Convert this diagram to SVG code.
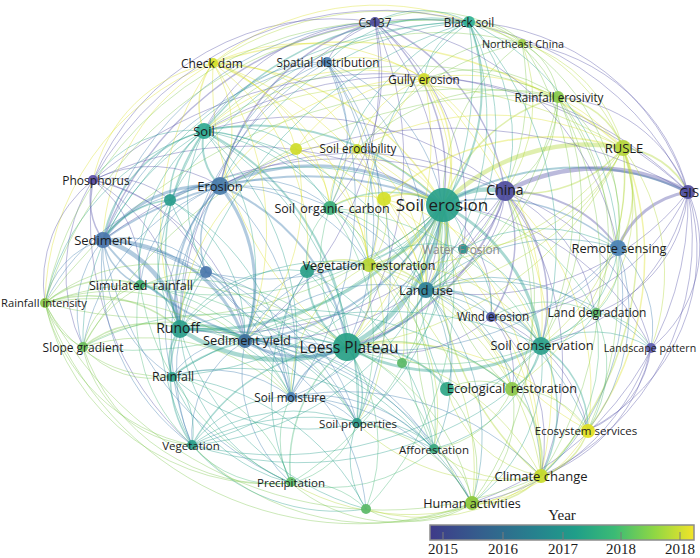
<svg xmlns="http://www.w3.org/2000/svg" width="700" height="558" viewBox="0 0 700 558">
<defs>
<linearGradient id="vir" x1="0" y1="0" x2="1" y2="0">
<stop offset="0" stop-color="#3e3a89"/><stop offset="0.2" stop-color="#34608d"/><stop offset="0.4" stop-color="#26828e"/><stop offset="0.55" stop-color="#1f9e89"/><stop offset="0.7" stop-color="#3bbb75"/><stop offset="0.85" stop-color="#8fd744"/><stop offset="1" stop-color="#f2e428"/>
</linearGradient>
<style>
#edges path{fill:none;stroke-opacity:.4;stroke-width:1;stroke-linecap:round}
.p{stroke:#5552a8}.b{stroke:#3f7cb0}.tb{stroke:#2f8aa0}.t{stroke:#2aa08e}.g{stroke:#4cb87a}.lg{stroke:#80c850}.l{stroke:#b2d638}.y{stroke:#dce22a}
#edges .w15{stroke-width:1.5}#edges .w2{stroke-width:2}#edges .w3{stroke-width:3}#edges .w4{stroke-width:4.5}
circle{fill-opacity:.92}
.lb{font-family:"Open Sans","DejaVu Sans",sans-serif;fill:#1c1c1c;text-anchor:middle;dominant-baseline:central;font-size:11.7px}
.yr{font-family:"Liberation Serif","Times New Roman",serif;fill:#1c1c1c;text-anchor:middle;font-size:15px}
</style>
</defs>
<rect width="700" height="558" fill="#ffffff"/>
<g id="edges">
<path class="t w4" d="M443 205A70 70 0 0 1 505 192"/>
<path class="l w4" d="M443 205A200 200 0 0 1 623 148"/>
<path class="tb w2" d="M443 205A260 260 0 0 1 688 192"/>
<path class="l w15" d="M443 205A170 170 0 0 1 558 97"/>
<path class="lg" d="M443 205A190 190 0 0 1 522 43"/>
<path class="t w2" d="M443 205A190 190 0 0 0 469 22"/>
<path class="p w15" d="M443 205A200 200 0 0 0 375 22"/>
<path class="y w15" d="M443 205A130 130 0 0 0 424 79"/>
<path class="b" d="M443 205A190 190 0 0 0 327 62"/>
<path class="y w15" d="M443 205A280 280 0 0 0 213 63"/>
<path class="t w2" d="M443 205A260 260 0 0 0 204 131"/>
<path class="y" d="M443 205A110 110 0 0 0 357 149"/>
<path class="y" d="M443 205A160 160 0 0 0 296 149"/>
<path class="p" d="M443 205A360 360 0 0 0 93 180"/>
<path class="b w3" d="M443 205A230 230 0 0 0 220 186"/>
<path class="t" d="M443 205A280 280 0 0 0 170 200"/>
<path class="b w2" d="M443 205A350 350 0 0 0 103 240"/>
<path class="g w15" d="M443 205A120 120 0 0 0 330 208"/>
<path class="y w2" d="M443 205A60 60 0 0 0 384 199"/>
<path class="t" d="M443 205A50 50 0 0 1 463 249"/>
<path class="b w15" d="M443 205A190 190 0 0 1 618 248"/>
<path class="g" d="M443 205A320 320 0 0 1 140 285"/>
<path class="b" d="M443 205A250 250 0 0 1 206 272"/>
<path class="l w2" d="M443 205A100 100 0 0 1 369 265"/>
<path class="t" d="M443 205A160 160 0 0 1 307 271"/>
<path class="tb w3" d="M443 205A90 90 0 0 1 426 290"/>
<path class="lg" d="M443 205A420 420 0 0 1 45 303"/>
<path class="p" d="M443 205A130 130 0 0 1 491 317"/>
<path class="g" d="M443 205A190 190 0 0 1 595 313"/>
<path class="t w3" d="M443 205A300 300 0 0 1 180 329"/>
<path class="g" d="M443 205A400 400 0 0 1 83 347"/>
<path class="b w2" d="M443 205A250 250 0 0 1 245 341"/>
<path class="t w4" d="M443 205A180 180 0 0 1 347 347"/>
<path class="g" d="M443 205A170 170 0 0 1 402 363"/>
<path class="t w3" d="M443 205A180 180 0 0 1 541 345"/>
<path class="p" d="M443 205A260 260 0 0 1 651 348"/>
<path class="lg" d="M443 205A200 200 0 0 0 512 389"/>
<path class="t" d="M443 205A190 190 0 0 0 447 389"/>
<path class="t" d="M443 205A330 330 0 0 1 172 376"/>
<path class="b" d="M443 205A250 250 0 0 1 291 397"/>
<path class="t" d="M443 205A240 240 0 0 1 357 423"/>
<path class="y" d="M443 205A270 270 0 0 0 588 430"/>
<path class="t" d="M443 205A350 350 0 0 1 192 445"/>
<path class="g" d="M443 205A250 250 0 0 0 434 449"/>
<path class="l w15" d="M443 205A290 290 0 0 0 541 476"/>
<path class="g" d="M443 205A320 320 0 0 1 291 483"/>
<path class="lg" d="M443 205A300 300 0 0 0 472 503"/>
<path class="g" d="M443 205A320 320 0 0 1 366 509"/>
<path class="t w2" d="M347 347A260 260 0 0 0 204 131"/>
<path class="b w2" d="M347 347A210 210 0 0 0 220 186"/>
<path class="b w2" d="M347 347A280 280 0 0 1 103 240"/>
<path class="t w4" d="M347 347A180 180 0 0 1 180 329"/>
<path class="b w3" d="M347 347A110 110 0 0 1 245 341"/>
<path class="t w15" d="M347 347A190 190 0 0 0 172 376"/>
<path class="b w15" d="M347 347A80 80 0 0 0 291 397"/>
<path class="t w15" d="M347 347A80 80 0 0 1 357 423"/>
<path class="t w15" d="M347 347A190 190 0 0 0 192 445"/>
<path class="g w15" d="M347 347A150 150 0 0 0 291 483"/>
<path class="g" d="M347 347A140 140 0 0 1 434 449"/>
<path class="lg" d="M347 347A210 210 0 0 1 472 503"/>
<path class="g" d="M347 347A170 170 0 0 1 366 509"/>
<path class="l" d="M347 347A240 240 0 0 1 541 476"/>
<path class="y" d="M347 347A260 260 0 0 1 588 430"/>
<path class="t w3" d="M347 347A200 200 0 0 0 541 345"/>
<path class="lg w15" d="M347 347A180 180 0 0 1 512 389"/>
<path class="t w2" d="M347 347A110 110 0 0 1 447 389"/>
<path class="tb w2" d="M347 347A100 100 0 0 0 426 290"/>
<path class="l w15" d="M347 347A90 90 0 0 0 369 265"/>
<path class="t w2" d="M347 347A90 90 0 0 1 307 271"/>
<path class="g" d="M347 347A150 150 0 0 1 330 208"/>
<path class="p w2" d="M347 347A230 230 0 0 0 505 192"/>
<path class="t" d="M347 347A160 160 0 0 0 463 249"/>
<path class="g" d="M347 347A220 220 0 0 0 140 285"/>
<path class="b" d="M347 347A170 170 0 0 1 206 272"/>
<path class="t" d="M347 347A240 240 0 0 1 170 200"/>
<path class="g" d="M347 347A280 280 0 0 0 83 347"/>
<path class="lg" d="M347 347A320 320 0 0 0 45 303"/>
<path class="y" d="M347 347A330 330 0 0 1 213 63"/>
<path class="b" d="M347 347A300 300 0 0 0 327 62"/>
<path class="p" d="M347 347A340 340 0 0 0 375 22"/>
<path class="t" d="M347 347A360 360 0 0 0 469 22"/>
<path class="g" d="M347 347A60 60 0 0 1 402 363"/>
<path class="g" d="M347 347A260 260 0 0 0 595 313"/>
<path class="b" d="M347 347A300 300 0 0 0 618 248"/>
<path class="p" d="M347 347A150 150 0 0 0 491 317"/>
<path class="y" d="M347 347A290 290 0 0 0 424 79"/>
<path class="lg" d="M347 347A330 330 0 0 0 558 97"/>
<path class="l" d="M347 347A350 350 0 0 0 623 148"/>
<path class="p w4" d="M505 192A190 190 0 0 1 688 192"/>
<path class="p w2" d="M505 192A130 130 0 0 1 618 248"/>
<path class="l w15" d="M505 192A130 130 0 0 0 623 148"/>
<path class="lg" d="M505 192A110 110 0 0 0 558 97"/>
<path class="l" d="M505 192A160 160 0 0 0 522 43"/>
<path class="t" d="M505 192A180 180 0 0 0 469 22"/>
<path class="p w15" d="M505 192A220 220 0 0 0 375 22"/>
<path class="p" d="M505 192A160 160 0 0 1 595 313"/>
<path class="p w15" d="M505 192A160 160 0 0 1 541 345"/>
<path class="p" d="M505 192A220 220 0 0 1 651 348"/>
<path class="p w15" d="M505 192A130 130 0 0 1 491 317"/>
<path class="y" d="M505 192A270 270 0 0 1 588 430"/>
<path class="p" d="M505 192A290 290 0 0 1 541 476"/>
<path class="p" d="M505 192A110 110 0 0 1 426 290"/>
<path class="p" d="M505 192A300 300 0 0 0 220 186"/>
<path class="p" d="M505 192A320 320 0 0 0 204 131"/>
<path class="p" d="M505 192A400 400 0 0 0 103 240"/>
<path class="p" d="M505 192A280 280 0 0 1 245 341"/>
<path class="p" d="M505 192A340 340 0 0 1 180 329"/>
<path class="lg" d="M505 192A200 200 0 0 1 512 389"/>
<path class="lg" d="M505 192A310 310 0 0 1 472 503"/>
<path class="l w2" d="M688 192A80 80 0 0 0 623 148"/>
<path class="p w3" d="M688 192A90 90 0 0 0 618 248"/>
<path class="p" d="M688 192A130 130 0 0 1 651 348"/>
<path class="p" d="M688 192A150 150 0 0 0 558 97"/>
<path class="p" d="M688 192A200 200 0 0 0 522 43"/>
<path class="p" d="M688 192A140 140 0 0 1 595 313"/>
<path class="p" d="M688 192A200 200 0 0 1 541 345"/>
<path class="p" d="M688 192A200 200 0 0 1 588 430"/>
<path class="p" d="M688 192A260 260 0 0 1 541 476"/>
<path class="p" d="M688 192A270 270 0 0 1 426 290"/>
<path class="p" d="M688 192A220 220 0 0 1 491 317"/>
<path class="p" d="M688 192A480 480 0 0 0 220 186"/>
<path class="p" d="M688 192A320 320 0 0 1 472 503"/>
<path class="p" d="M469 22A240 240 0 0 1 688 192"/>
<path class="p" d="M375 22A300 300 0 0 1 688 192"/>
<path class="p" d="M204 131A400 400 0 0 1 688 192"/>
<path class="p" d="M93 180A450 450 0 0 1 688 192"/>
<path class="l w15" d="M623 148A80 80 0 0 0 558 97"/>
<path class="l" d="M623 148A150 150 0 0 0 522 43"/>
<path class="l w15" d="M623 148A110 110 0 0 1 618 248"/>
<path class="l w15" d="M623 148A330 330 0 0 1 541 476"/>
<path class="y w15" d="M623 148A290 290 0 0 1 588 430"/>
<path class="l" d="M623 148A210 210 0 0 1 541 345"/>
<path class="l" d="M623 148A170 170 0 0 1 595 313"/>
<path class="l" d="M623 148A210 210 0 0 0 469 22"/>
<path class="y" d="M623 148A210 210 0 0 0 424 79"/>
<path class="y w15" d="M213 63A420 420 0 0 1 623 148"/>
<path class="y" d="M623 148A280 280 0 0 0 357 149"/>
<path class="y w15" d="M623 148A250 250 0 0 0 384 199"/>
<path class="l" d="M623 148A260 260 0 0 1 426 290"/>
<path class="l" d="M623 148A180 180 0 0 1 463 249"/>
<path class="l" d="M623 148A210 210 0 0 1 651 348"/>
<path class="l" d="M623 148A260 260 0 0 1 512 389"/>
<path class="l" d="M623 148A280 280 0 0 1 369 265"/>
<path class="l" d="M623 148A430 430 0 0 0 204 131"/>
<path class="lg" d="M558 97A70 70 0 0 0 522 43"/>
<path class="lg" d="M558 97A120 120 0 0 0 469 22"/>
<path class="lg" d="M558 97A160 160 0 0 1 618 248"/>
<path class="lg" d="M558 97A260 260 0 0 1 541 345"/>
<path class="lg" d="M558 97A380 380 0 0 1 541 476"/>
<path class="lg" d="M558 97A220 220 0 0 1 595 313"/>
<path class="lg" d="M558 97A210 210 0 0 0 357 149"/>
<path class="lg" d="M558 97A520 520 0 0 0 45 303"/>
<path class="lg" d="M558 97A500 500 0 0 0 83 347"/>
<path class="lg" d="M558 97A140 140 0 0 0 424 79"/>
<path class="lg" d="M558 97A340 340 0 0 1 588 430"/>
<path class="lg" d="M558 97A360 360 0 0 0 204 131"/>
<path class="lg" d="M558 97A220 220 0 0 1 426 290"/>
<path class="lg" d="M522 43A60 60 0 0 0 469 22"/>
<path class="lg" d="M522 43A110 110 0 0 0 424 79"/>
<path class="l" d="M522 43A310 310 0 0 0 213 63"/>
<path class="lg" d="M522 43A150 150 0 0 0 375 22"/>
<path class="lg" d="M522 43A330 330 0 0 0 204 131"/>
<path class="lg" d="M522 43A250 250 0 0 1 426 290"/>
<path class="lg" d="M522 43A300 300 0 0 1 541 345"/>
<path class="lg" d="M522 43A220 220 0 0 1 618 248"/>
<path class="lg" d="M522 43A260 260 0 0 0 330 208"/>
<path class="t" d="M469 22A100 100 0 0 0 375 22"/>
<path class="t" d="M469 22A70 70 0 0 0 424 79"/>
<path class="t" d="M469 22A150 150 0 0 0 327 62"/>
<path class="t" d="M469 22A230 230 0 0 0 330 208"/>
<path class="t w15" d="M469 22A290 290 0 0 0 204 131"/>
<path class="t" d="M469 22A300 300 0 0 0 220 186"/>
<path class="t" d="M469 22A270 270 0 0 1 426 290"/>
<path class="t" d="M469 22A230 230 0 0 1 463 249"/>
<path class="t" d="M469 22A330 330 0 0 1 541 345"/>
<path class="t" d="M469 22A420 420 0 0 0 103 240"/>
<path class="t" d="M469 22A260 260 0 0 0 369 265"/>
<path class="t" d="M469 22A260 260 0 0 1 618 248"/>
<path class="t" d="M469 22A420 420 0 0 0 180 329"/>
<path class="t" d="M469 22A340 340 0 0 0 170 200"/>
<path class="p" d="M375 22A70 70 0 0 0 327 62"/>
<path class="p w15" d="M375 22A220 220 0 0 0 220 186"/>
<path class="p w15" d="M375 22A340 340 0 0 0 103 240"/>
<path class="p" d="M93 180A260 260 0 0 1 375 22"/>
<path class="p" d="M375 22A200 200 0 0 0 204 131"/>
<path class="p" d="M375 22A330 330 0 0 1 245 341"/>
<path class="p" d="M375 22A240 240 0 0 1 463 249"/>
<path class="p" d="M375 22A350 350 0 0 0 180 329"/>
<path class="p" d="M375 22A280 280 0 0 1 426 290"/>
<path class="p" d="M375 22A200 200 0 0 1 330 208"/>
<path class="p" d="M375 22A280 280 0 0 1 618 248"/>
<path class="y" d="M424 79A220 220 0 0 0 213 63"/>
<path class="y" d="M424 79A110 110 0 0 0 327 62"/>
<path class="y" d="M424 79A100 100 0 0 0 357 149"/>
<path class="y" d="M424 79A160 160 0 0 0 296 149"/>
<path class="y" d="M424 79A220 220 0 0 1 426 290"/>
<path class="y" d="M424 79A200 200 0 0 0 369 265"/>
<path class="y" d="M424 79A230 230 0 0 0 204 131"/>
<path class="y" d="M424 79A240 240 0 0 0 220 186"/>
<path class="y" d="M424 79A300 300 0 0 1 541 345"/>
<path class="y" d="M424 79A420 420 0 0 1 541 476"/>
<path class="b" d="M327 62A140 140 0 0 0 204 131"/>
<path class="b" d="M327 62A160 160 0 0 0 220 186"/>
<path class="b" d="M327 62A150 150 0 0 1 330 208"/>
<path class="b" d="M327 62A300 300 0 0 0 103 240"/>
<path class="b" d="M327 62A340 340 0 0 1 291 397"/>
<path class="b" d="M327 62A370 370 0 0 1 357 423"/>
<path class="b" d="M327 62A210 210 0 0 1 369 265"/>
<path class="b" d="M327 62A300 300 0 0 0 180 329"/>
<path class="b" d="M327 62A250 250 0 0 1 426 290"/>
<path class="y w15" d="M213 63A70 70 0 0 0 204 131"/>
<path class="y" d="M213 63A120 120 0 0 1 296 149"/>
<path class="y" d="M213 63A160 160 0 0 1 357 149"/>
<path class="y" d="M213 63A260 260 0 0 1 369 265"/>
<path class="y" d="M213 63A130 130 0 0 1 220 186"/>
<path class="y" d="M213 63A290 290 0 0 1 245 341"/>
<path class="y" d="M213 63A280 280 0 0 0 180 329"/>
<path class="y" d="M213 63A210 210 0 0 0 103 240"/>
<path class="y" d="M213 63A320 320 0 0 1 426 290"/>
<path class="y" d="M213 63A230 230 0 0 1 307 271"/>
<path class="y" d="M213 63A180 180 0 0 1 330 208"/>
<path class="y" d="M93 180A150 150 0 0 1 213 63"/>
<path class="y" d="M45 303A260 260 0 0 1 213 63"/>
<path class="y" d="M213 63A260 260 0 0 1 469 22"/>
<path class="t w2" d="M204 131A60 60 0 0 0 220 186"/>
<path class="t w15" d="M204 131A80 80 0 0 0 170 200"/>
<path class="t" d="M204 131A120 120 0 0 0 93 180"/>
<path class="t w15" d="M204 131A140 140 0 0 0 103 240"/>
<path class="t w15" d="M204 131A210 210 0 0 0 180 329"/>
<path class="t" d="M204 131A150 150 0 0 1 330 208"/>
<path class="t" d="M204 131A220 220 0 0 1 245 341"/>
<path class="t" d="M204 131A170 170 0 0 0 140 285"/>
<path class="t" d="M204 131A150 150 0 0 0 206 272"/>
<path class="t" d="M204 131A280 280 0 0 1 291 397"/>
<path class="t" d="M204 131A320 320 0 0 1 357 423"/>
<path class="t" d="M204 131A320 320 0 0 0 192 445"/>
<path class="t" d="M204 131A100 100 0 0 1 296 149"/>
<path class="t" d="M204 131A230 230 0 0 0 45 303"/>
<path class="t" d="M204 131A240 240 0 0 0 83 347"/>
<path class="t" d="M204 131A220 220 0 0 1 369 265"/>
<path class="t" d="M204 131A270 270 0 0 1 426 290"/>
<path class="p w15" d="M93 180A70 70 0 0 0 103 240"/>
<path class="p" d="M93 180A130 130 0 0 1 220 186"/>
<path class="p" d="M93 180A90 90 0 0 1 170 200"/>
<path class="p" d="M93 180A170 170 0 0 1 180 329"/>
<path class="p" d="M93 180A200 200 0 0 1 245 341"/>
<path class="p" d="M93 180A120 120 0 0 1 140 285"/>
<path class="p" d="M45 303A130 130 0 0 1 93 180"/>
<path class="p" d="M93 180A170 170 0 0 0 83 347"/>
<path class="p" d="M93 180A150 150 0 0 1 206 272"/>
<path class="p" d="M93 180A300 300 0 0 0 192 445"/>
<path class="p" d="M93 180A330 330 0 0 1 469 22"/>
<path class="b w3" d="M220 186A130 130 0 0 0 103 240"/>
<path class="b w2" d="M220 186A60 60 0 0 0 170 200"/>
<path class="b w2" d="M220 186A150 150 0 0 0 180 329"/>
<path class="b w3" d="M220 186A160 160 0 0 1 245 341"/>
<path class="b" d="M220 186A120 120 0 0 0 140 285"/>
<path class="b w15" d="M220 186A90 90 0 0 0 206 272"/>
<path class="b" d="M220 186A210 210 0 0 0 45 303"/>
<path class="b" d="M220 186A110 110 0 0 1 330 208"/>
<path class="b" d="M220 186A170 170 0 0 1 369 265"/>
<path class="b" d="M220 186A230 230 0 0 1 426 290"/>
<path class="b" d="M220 186A210 210 0 0 0 83 347"/>
<path class="b" d="M220 186A200 200 0 0 0 172 376"/>
<path class="b" d="M220 186A220 220 0 0 1 291 397"/>
<path class="b" d="M220 186A270 270 0 0 0 192 445"/>
<path class="t w15" d="M170 200A90 90 0 0 0 103 240"/>
<path class="t" d="M170 200A130 130 0 0 0 180 329"/>
<path class="t" d="M170 200A90 90 0 0 0 140 285"/>
<path class="t" d="M170 200A160 160 0 0 1 245 341"/>
<path class="b w4" d="M103 240A110 110 0 0 1 180 329"/>
<path class="b w3" d="M103 240A150 150 0 0 1 245 341"/>
<path class="b" d="M103 240A80 80 0 0 0 45 303"/>
<path class="b" d="M103 240A110 110 0 0 0 83 347"/>
<path class="b w15" d="M103 240A60 60 0 0 0 140 285"/>
<path class="b" d="M103 240A110 110 0 0 1 206 272"/>
<path class="b" d="M103 240A150 150 0 0 0 172 376"/>
<path class="b" d="M103 240A220 220 0 0 0 192 445"/>
<path class="b" d="M103 240A220 220 0 0 1 291 397"/>
<path class="b" d="M103 240A300 300 0 0 1 375 22"/>
<path class="lg w15" d="M45 303A100 100 0 0 1 140 285"/>
<path class="lg" d="M45 303A70 70 0 0 0 83 347"/>
<path class="lg w15" d="M45 303A140 140 0 0 1 180 329"/>
<path class="lg" d="M45 303A130 130 0 0 0 172 376"/>
<path class="lg" d="M45 303A200 200 0 0 1 245 341"/>
<path class="lg" d="M45 303A170 170 0 0 1 206 272"/>
<path class="lg" d="M192 445A190 190 0 0 1 45 303"/>
<path class="lg" d="M291 483A230 230 0 0 1 45 303"/>
<path class="lg" d="M472 503A330 330 0 0 1 45 303"/>
<path class="lg" d="M45 303A250 250 0 0 1 291 397"/>
<path class="lg" d="M541 476A380 380 0 0 1 45 303"/>
<path class="lg" d="M45 303A350 350 0 0 1 375 22"/>
<path class="lg" d="M45 303A400 400 0 0 1 469 22"/>
<path class="lg w15" d="M83 347A100 100 0 0 1 180 329"/>
<path class="lg" d="M83 347A80 80 0 0 1 140 285"/>
<path class="lg" d="M83 347A160 160 0 0 1 245 341"/>
<path class="lg" d="M83 347A90 90 0 0 0 172 376"/>
<path class="lg" d="M83 347A130 130 0 0 1 206 272"/>
<path class="lg" d="M192 445A120 120 0 0 1 83 347"/>
<path class="lg" d="M291 483A200 200 0 0 1 83 347"/>
<path class="lg" d="M83 347A210 210 0 0 1 291 397"/>
<path class="t w3" d="M180 329A70 70 0 0 1 245 341"/>
<path class="t w2" d="M180 329A50 50 0 0 0 172 376"/>
<path class="t w15" d="M180 329A120 120 0 0 0 192 445"/>
<path class="t w15" d="M180 329A50 50 0 0 0 140 285"/>
<path class="t w15" d="M180 329A60 60 0 0 1 206 272"/>
<path class="t" d="M180 329A120 120 0 0 1 291 397"/>
<path class="t" d="M180 329A180 180 0 0 0 291 483"/>
<path class="t" d="M180 329A130 130 0 0 1 307 271"/>
<path class="t" d="M180 329A200 200 0 0 1 369 265"/>
<path class="t" d="M180 329A190 190 0 0 1 357 423"/>
<path class="b" d="M245 341A80 80 0 0 0 172 376"/>
<path class="b" d="M245 341A70 70 0 0 1 291 397"/>
<path class="b w15" d="M245 341A80 80 0 0 0 206 272"/>
<path class="b" d="M245 341A90 90 0 0 1 307 271"/>
<path class="b" d="M245 341A150 150 0 0 0 291 483"/>
<path class="b" d="M245 341A140 140 0 0 1 369 265"/>
<path class="b" d="M245 341A190 190 0 0 1 426 290"/>
<path class="b" d="M245 341A110 110 0 0 0 192 445"/>
<path class="l w15" d="M369 265A65 65 0 0 0 307 271"/>
<path class="l w15" d="M369 265A65 65 0 0 1 426 290"/>
<path class="l" d="M369 265A70 70 0 0 0 330 208"/>
<path class="l" d="M369 265A70 70 0 0 0 384 199"/>
<path class="l" d="M369 265A160 160 0 0 1 357 423"/>
<path class="l" d="M369 265A140 140 0 0 0 291 397"/>
<path class="l" d="M369 265A190 190 0 0 1 434 449"/>
<path class="l" d="M369 265A190 190 0 0 1 512 389"/>
<path class="l" d="M369 265A180 180 0 0 1 541 345"/>
<path class="l" d="M369 265A260 260 0 0 1 541 476"/>
<path class="l" d="M369 265A250 250 0 0 1 472 503"/>
<path class="l" d="M369 265A100 100 0 0 1 402 363"/>
<path class="tb w15" d="M426 290A130 130 0 0 1 541 345"/>
<path class="tb" d="M426 290A70 70 0 0 1 491 317"/>
<path class="tb" d="M426 290A170 170 0 0 1 595 313"/>
<path class="tb" d="M426 290A120 120 0 0 1 512 389"/>
<path class="tb" d="M426 290A100 100 0 0 1 447 389"/>
<path class="tb" d="M426 290A210 210 0 0 1 541 476"/>
<path class="tb" d="M426 290A220 220 0 0 1 588 430"/>
<path class="tb" d="M426 290A220 220 0 0 1 472 503"/>
<path class="tb" d="M426 290A200 200 0 0 1 618 248"/>
<path class="tb" d="M426 290A160 160 0 0 1 434 449"/>
<path class="tb" d="M426 290A230 230 0 0 1 651 348"/>
<path class="t w15" d="M541 345A60 60 0 0 1 512 389"/>
<path class="t" d="M541 345A60 60 0 0 0 595 313"/>
<path class="t w15" d="M541 345A100 100 0 0 1 588 430"/>
<path class="t w15" d="M541 345A140 140 0 0 1 541 476"/>
<path class="t" d="M541 345A170 170 0 0 1 472 503"/>
<path class="t" d="M541 345A60 60 0 0 0 491 317"/>
<path class="t" d="M541 345A120 120 0 0 0 618 248"/>
<path class="t" d="M541 345A110 110 0 0 1 651 348"/>
<path class="t" d="M541 345A150 150 0 0 1 434 449"/>
<path class="t" d="M541 345A110 110 0 0 1 447 389"/>
<path class="g" d="M595 313A70 70 0 0 0 618 248"/>
<path class="g" d="M595 313A70 70 0 0 1 651 348"/>
<path class="g" d="M595 313A120 120 0 0 1 588 430"/>
<path class="g" d="M595 313A110 110 0 0 0 491 317"/>
<path class="g" d="M595 313A170 170 0 0 1 541 476"/>
<path class="b" d="M618 248A110 110 0 0 1 651 348"/>
<path class="b" d="M618 248A190 190 0 0 1 588 430"/>
<path class="b" d="M618 248A240 240 0 0 1 541 476"/>
<path class="b" d="M618 248A140 140 0 0 1 491 317"/>
<path class="p" d="M651 348A100 100 0 0 1 588 430"/>
<path class="p" d="M651 348A170 170 0 0 1 541 476"/>
<path class="p" d="M651 348A230 230 0 0 1 472 503"/>
<path class="lg w15" d="M512 389A100 100 0 0 1 541 476"/>
<path class="lg" d="M512 389A90 90 0 0 1 588 430"/>
<path class="lg" d="M512 389A120 120 0 0 1 472 503"/>
<path class="lg" d="M512 389A100 100 0 0 1 434 449"/>
<path class="lg" d="M512 389A70 70 0 0 0 447 389"/>
<path class="l w15" d="M541 476A80 80 0 0 1 472 503"/>
<path class="l w15" d="M588 430A70 70 0 0 1 541 476"/>
<path class="l" d="M541 476A120 120 0 0 1 434 449"/>
<path class="l" d="M541 476A120 120 0 0 1 447 389"/>
<path class="l" d="M541 476A240 240 0 0 1 291 483"/>
<path class="l" d="M541 476A190 190 0 0 1 366 509"/>
<path class="l" d="M541 476A200 200 0 0 1 357 423"/>
<path class="y" d="M588 430A140 140 0 0 1 472 503"/>
<path class="lg" d="M472 503A70 70 0 0 0 434 449"/>
<path class="lg" d="M472 503A160 160 0 0 1 291 483"/>
<path class="lg" d="M472 503A100 100 0 0 1 366 509"/>
<path class="lg" d="M472 503A150 150 0 0 0 357 423"/>
<path class="lg" d="M472 503A120 120 0 0 0 447 389"/>
<path class="lg" d="M472 503A250 250 0 0 1 192 445"/>
<path class="g" d="M291 483A110 110 0 0 1 192 445"/>
<path class="g" d="M291 483A90 90 0 0 1 291 397"/>
<path class="g" d="M291 483A90 90 0 0 0 357 423"/>
<path class="g" d="M291 483A160 160 0 0 0 172 376"/>
<path class="g" d="M291 483A90 90 0 0 1 366 509"/>
<path class="g" d="M291 483A160 160 0 0 0 434 449"/>
<path class="t" d="M192 445A80 80 0 0 0 172 376"/>
<path class="t" d="M192 445A120 120 0 0 1 291 397"/>
<path class="t" d="M192 445A170 170 0 0 1 357 423"/>
<path class="t" d="M192 445A260 260 0 0 1 434 449"/>
<path class="t" d="M192 445A190 190 0 0 0 366 509"/>
<path class="b" d="M291 397A80 80 0 0 1 357 423"/>
<path class="b" d="M291 397A130 130 0 0 0 172 376"/>
<path class="b" d="M291 397A130 130 0 0 1 307 271"/>
<path class="t" d="M172 376A200 200 0 0 0 357 423"/>
<path class="t" d="M172 376A170 170 0 0 0 291 483"/>
<path class="t" d="M172 376A280 280 0 0 1 434 449"/>
<path class="t" d="M192 445A290 290 0 0 0 426 290"/>
<path class="t" d="M192 445A370 370 0 0 0 541 345"/>
<path class="t" d="M172 376A380 380 0 0 1 541 345"/>
<path class="t" d="M180 329A290 290 0 0 1 434 449"/>
<path class="t" d="M180 329A350 350 0 0 1 472 503"/>
<path class="t" d="M180 329A340 340 0 0 1 512 389"/>
<path class="b" d="M245 341A140 140 0 0 1 357 423"/>
<path class="b" d="M245 341A220 220 0 0 1 434 449"/>
<path class="b" d="M245 341A290 290 0 0 1 472 503"/>
<path class="b" d="M291 397A160 160 0 0 1 434 449"/>
<path class="b" d="M291 397A210 210 0 0 1 472 503"/>
<path class="b" d="M291 397A270 270 0 0 1 541 476"/>
<path class="t" d="M357 423A85 85 0 0 1 434 449"/>
<path class="t" d="M357 423A90 90 0 0 0 366 509"/>
<path class="b" d="M245 341A200 200 0 0 1 366 509"/>
<path class="t" d="M172 376A250 250 0 0 1 366 509"/>
<path class="t" d="M180 329A270 270 0 0 0 366 509"/>
<path class="t" d="M192 445A340 340 0 0 0 512 389"/>
<path class="b" d="M103 240A320 320 0 0 0 291 483"/>
<path class="b" d="M103 240A320 320 0 0 1 357 423"/>
<path class="t" d="M170 200A240 240 0 0 1 291 397"/>
<path class="b" d="M206 272A160 160 0 0 1 291 397"/>
<path class="b" d="M206 272A210 210 0 0 1 357 423"/>
<path class="b" d="M206 272A180 180 0 0 0 192 445"/>
<path class="t" d="M307 271A180 180 0 0 1 357 423"/>
<path class="t" d="M307 271A220 220 0 0 0 291 483"/>
<path class="t" d="M307 271A240 240 0 0 1 434 449"/>
<path class="g" d="M140 285A170 170 0 0 0 192 445"/>
<path class="g" d="M140 285A260 260 0 0 0 291 483"/>
<path class="g" d="M140 285A200 200 0 0 1 291 397"/>
<path class="g" d="M140 285A270 270 0 0 1 357 423"/>
<path class="y" d="M296 149A150 150 0 0 1 369 265"/>
<path class="y" d="M296 149A190 190 0 0 1 426 290"/>
<path class="y" d="M296 149A75 75 0 0 1 330 208"/>
<path class="y" d="M384 199A60 60 0 0 0 330 208"/>
<path class="y" d="M384 199A100 100 0 0 1 426 290"/>
<path class="y" d="M357 149A70 70 0 0 0 330 208"/>
<path class="y" d="M357 149A160 160 0 0 1 426 290"/>
<path class="y" d="M357 149A120 120 0 0 1 369 265"/>
<path class="g" d="M330 208A130 130 0 0 1 426 290"/>
<path class="g" d="M330 208A70 70 0 0 0 307 271"/>
<path class="g" d="M330 208A260 260 0 0 1 541 345"/>
<path class="g" d="M330 208A270 270 0 0 1 434 449"/>
<path class="g" d="M330 208A220 220 0 0 1 357 423"/>
<path class="y" d="M384 199A220 220 0 0 1 541 345"/>
<path class="y" d="M384 199A330 330 0 0 1 541 476"/>
<path class="y" d="M357 149A370 370 0 0 1 541 476"/>
<path class="y" d="M296 149A210 210 0 0 0 180 329"/>
<path class="y" d="M296 149A210 210 0 0 1 245 341"/>
<path class="t" d="M463 249A50 50 0 0 1 426 290"/>
<path class="t" d="M463 249A120 120 0 0 1 541 345"/>
<path class="t" d="M463 249A160 160 0 0 1 618 248"/>
<path class="t" d="M463 249A75 75 0 0 1 491 317"/>
<path class="t" d="M463 249A100 100 0 0 0 369 265"/>
<path class="p" d="M463 249A80 80 0 0 0 505 192"/>
<path class="p" d="M491 317A80 80 0 0 1 512 389"/>
<path class="p" d="M491 317A170 170 0 0 1 541 476"/>
<path class="p" d="M491 317A150 150 0 0 1 588 430"/>
</g>
<g id="n-u1"><circle cx="296" cy="149" r="6" fill="#cfdc2a"/></g>
<g id="n-u2"><circle cx="384" cy="199" r="7" fill="#d5df28"/></g>
<g id="n-u3"><circle cx="170" cy="200" r="6" fill="#2b9d8d"/></g>
<g id="n-u4"><circle cx="206" cy="272" r="6" fill="#4a76ab"/></g>
<g id="n-u5"><circle cx="307" cy="271" r="7" fill="#2aa088"/></g>
<g id="n-u6"><circle cx="402" cy="363" r="5" fill="#5ab866"/></g>
<g id="n-u7"><circle cx="447" cy="389" r="7" fill="#2ea585"/></g>
<g id="n-u8"><circle cx="366" cy="509" r="5" fill="#5ab866"/></g>
<g id="n-soil-erosion"><circle cx="443" cy="205" r="17" fill="#28a08a"/><text class="lb" x="442" y="204" style="font-size:17px">Soil erosion</text></g>
<g id="n-china"><circle cx="505" cy="191" r="10" fill="#4d4b9d"/><text class="lb" x="505" y="189" style="font-size:14px">China</text></g>
<g id="n-gis"><circle cx="688" cy="192" r="7" fill="#4f4c9c"/><text class="lb" x="689" y="192" style="font-size:13px">GIS</text></g>
<g id="n-rusle"><circle cx="623" cy="148" r="8" fill="#b5d53a"/><text class="lb" x="624" y="148" style="font-size:13px">RUSLE</text></g>
<g id="n-rainfall-erosivity"><circle cx="558" cy="97" r="6" fill="#86c94a"/><text class="lb" x="559" y="97">Rainfall erosivity</text></g>
<g id="n-northeast-china"><circle cx="522" cy="43" r="4" fill="#9fd04a"/><text class="lb" x="523" y="43" style="font-size:10.8px">Northeast China</text></g>
<g id="n-black-soil"><circle cx="469" cy="22" r="6" fill="#2fb196"/><text class="lb" x="469" y="22">Black soil</text></g>
<g id="n-cs137"><circle cx="375" cy="22" r="5" fill="#4f4c9d"/><text class="lb" x="375" y="22">Cs137</text></g>
<g id="n-gully-erosion"><circle cx="424" cy="79" r="6" fill="#d2dd2a"/><text class="lb" x="424" y="79">Gully erosion</text></g>
<g id="n-spatial-distribution"><circle cx="327" cy="62" r="5" fill="#4a80b3"/><text class="lb" x="328" y="62">Spatial distribution</text></g>
<g id="n-check-dam"><circle cx="213" cy="63" r="5" fill="#d5e02a"/><text class="lb" x="212" y="63" style="font-size:12px">Check dam</text></g>
<g id="n-soil"><circle cx="204" cy="131" r="8" fill="#2fa993"/><text class="lb" x="204" y="131" style="font-size:13px">Soil</text></g>
<g id="n-soil-erodibility"><circle cx="357" cy="149" r="5" fill="#c8dc30"/><text class="lb" x="358" y="148">Soil erodibility</text></g>
<g id="n-phosphorus"><circle cx="93" cy="180" r="5" fill="#5b4ea7"/><text class="lb" x="96" y="180" style="font-size:12px">Phosphorus</text></g>
<g id="n-erosion"><circle cx="220" cy="186" r="9" fill="#4679a9"/><text class="lb" x="220" y="186" style="font-size:13px">Erosion</text></g>
<g id="n-sediment"><circle cx="103" cy="240" r="8" fill="#4a76ab"/><text class="lb" x="103" y="240" style="font-size:13px">Sediment</text></g>
<g id="n-soil-organic-carbon"><circle cx="330" cy="208" r="7" fill="#3aad78"/><text class="lb" x="332" y="208" style="font-size:12.5px;word-spacing:2px">Soil organic carbon</text></g>
<g id="n-water-erosion"><circle cx="463" cy="249" r="5" fill="#2a8f8c"/><text class="lb" x="461" y="249" style="font-size:11.8px;fill:#8a8a8a">Water Erosion</text></g>
<g id="n-remote-sensing"><circle cx="618" cy="248" r="8" fill="#4a82b5"/><text class="lb" x="619" y="248" style="font-size:12.8px">Remote sensing</text></g>
<g id="n-simulated-rainfall"><circle cx="140" cy="285" r="5" fill="#3fae70"/><text class="lb" x="141" y="285" style="font-size:12.5px;word-spacing:2px">Simulated rainfall</text></g>
<g id="n-vegetation-restoration"><circle cx="369" cy="265" r="7" fill="#b8d636"/><text class="lb" x="369" y="265" style="font-size:12.5px;word-spacing:2px">Vegetation restoration</text></g>
<g id="n-land-use"><circle cx="426" cy="290" r="8" fill="#2c7f98"/><text class="lb" x="426" y="290" style="font-size:12.8px">Land use</text></g>
<g id="n-rainfall-intensity"><circle cx="45" cy="303" r="5" fill="#8bc84a"/><text class="lb" x="44" y="302" style="font-size:11.2px">Rainfall intensity</text></g>
<g id="n-wind-erosion"><circle cx="491" cy="317" r="5" fill="#4a55a5"/><text class="lb" x="493" y="316">Wind erosion</text></g>
<g id="n-land-degradation"><circle cx="596" cy="313" r="5" fill="#5cb86a"/><text class="lb" x="597" y="312" style="font-size:12px">Land degradation</text></g>
<g id="n-runoff"><circle cx="180" cy="329" r="9" fill="#2a9d8a"/><text class="lb" x="178" y="327" style="font-size:14px">Runoff</text></g>
<g id="n-slope-gradient"><circle cx="83" cy="347" r="5" fill="#6cbf5a"/><text class="lb" x="83" y="347" style="font-size:12px">Slope gradient</text></g>
<g id="n-sediment-yield"><circle cx="245" cy="341" r="7" fill="#3f72a0"/><text class="lb" x="247" y="340" style="font-size:12.8px">Sediment yield</text></g>
<g id="n-loess-plateau"><circle cx="347" cy="347" r="14" fill="#27a085"/><text class="lb" x="349" y="347" style="font-size:15.5px">Loess Plateau</text></g>
<g id="n-soil-conservation"><circle cx="541" cy="346" r="9" fill="#2ba08c"/><text class="lb" x="542" y="345" style="font-size:12.8px;word-spacing:1.5px">Soil conservation</text></g>
<g id="n-landscape-pattern"><circle cx="651" cy="348" r="5" fill="#5e5db1"/><text class="lb" x="650" y="348" style="font-size:10.6px">Landscape pattern</text></g>
<g id="n-ecological-restoration"><circle cx="512" cy="389" r="7" fill="#8cc84a"/><text class="lb" x="512" y="388" style="font-size:12.8px;word-spacing:2px">Ecological restoration</text></g>
<g id="n-rainfall"><circle cx="172" cy="377" r="5" fill="#2fa38e"/><text class="lb" x="173" y="376" style="font-size:12.3px">Rainfall</text></g>
<g id="n-soil-moisture"><circle cx="291" cy="397" r="5" fill="#4a7fb5"/><text class="lb" x="290" y="397">Soil moisture</text></g>
<g id="n-soil-properties"><circle cx="357" cy="423" r="5" fill="#2a9a88"/><text class="lb" x="358" y="423" style="font-size:11.5px">Soil properties</text></g>
<g id="n-ecosystem-services"><circle cx="588" cy="431" r="7" fill="#e0e020"/><text class="lb" x="586" y="430" style="font-size:11.5px">Ecosystem services</text></g>
<g id="n-vegetation"><circle cx="192" cy="445" r="5" fill="#2a9d8a"/><text class="lb" x="191" y="445" style="font-size:11.5px">Vegetation</text></g>
<g id="n-afforestation"><circle cx="434" cy="449" r="5" fill="#3aa880"/><text class="lb" x="434" y="449" style="font-size:11.5px">Afforestation</text></g>
<g id="n-climate-change"><circle cx="541" cy="476" r="7" fill="#c8dc2a"/><text class="lb" x="541" y="476" style="font-size:13px">Climate change</text></g>
<g id="n-precipitation"><circle cx="291" cy="482" r="5" fill="#5fbf6a"/><text class="lb" x="291" y="482" style="font-size:11.5px">Precipitation</text></g>
<g id="n-human-activities"><circle cx="472" cy="503" r="7" fill="#8cc83a"/><text class="lb" x="472" y="503" style="font-size:12.6px">Human activities</text></g>
<g id="legend">
<text class="yr" x="562" y="520">Year</text>
<rect x="430" y="525" width="264" height="15" fill="url(#vir)" stroke="#8c8c8c" stroke-width="1.5"/>
<g stroke="#7a7a7a" stroke-width="1"><line x1="443" y1="532" x2="443" y2="540"/><line x1="503" y1="532" x2="503" y2="540"/><line x1="563" y1="532" x2="563" y2="540"/><line x1="621" y1="532" x2="621" y2="540"/><line x1="680" y1="532" x2="680" y2="540"/></g>
<text class="yr" x="443" y="554">2015</text><text class="yr" x="503" y="554">2016</text><text class="yr" x="563" y="554">2017</text><text class="yr" x="621" y="554">2018</text><text class="yr" x="680" y="554">2018</text>
</g>
</svg>
